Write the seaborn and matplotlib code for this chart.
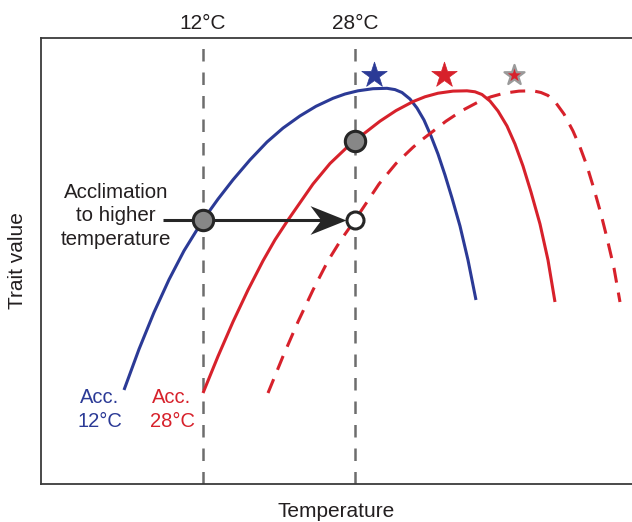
import numpy as np
import pandas as pd
import matplotlib
matplotlib.use("Agg")
import matplotlib.pyplot as plt
from matplotlib.path import Path
import seaborn as sns

# ---------------- data (temperature in degC, trait value in arbitrary units 0-100) -------------
acc12_T = [3.684, 5.263, 6.842, 8.421, 10.000, 12.000, 13.579, 15.158, 16.947, 18.737, 20.421,
           22.211, 23.895, 25.684, 26.947, 28.316, 29.895, 31.368, 32.211, 32.947, 33.789,
           34.526, 35.263, 36.000, 36.737, 37.474, 38.211, 39.053, 39.895, 40.737]
acc12_Y = [21.08, 30.22, 38.48, 45.83, 52.29, 59.19, 63.88, 68.21, 72.67, 76.68, 79.80,
           82.53, 84.69, 86.48, 87.44, 88.16, 88.63, 88.72, 88.43, 87.78, 86.32,
           84.30, 81.61, 78.03, 73.99, 69.28, 64.13, 57.85, 50.22, 41.26]

acc28_T = [12.000, 13.579, 15.158, 16.737, 18.316, 19.579, 20.947, 23.579, 25.368, 27.158,
           28.000, 28.842, 30.632, 32.316, 34.105, 35.368, 36.737, 38.316, 39.789, 40.632,
           41.368, 42.211, 43.053, 44.000, 44.842, 45.684, 46.526, 47.474, 48.316, 49.053]
acc28_Y = [20.40, 28.63, 36.37, 43.50, 50.04, 54.75, 59.19, 67.26, 71.86, 75.49,
           77.02, 78.39, 81.35, 83.72, 85.74, 86.82, 87.62, 88.09, 88.16, 87.94,
           87.33, 85.87, 83.63, 80.27, 76.23, 71.30, 65.47, 58.30, 50.22, 40.81]

shift_T = [18.842, 20.421, 22.000, 23.579, 25.158, 26.526, 28.000, 30.526, 32.316, 34.105,
           34.947, 35.789, 37.579, 39.263, 41.053, 42.316, 43.684, 45.263, 46.737, 47.579,
           48.316, 49.158, 50.000, 50.947, 51.684, 52.421, 53.158, 53.895, 54.526, 55.263,
           55.895]
shift_Y = [20.40, 28.63, 36.37, 43.50, 50.04, 54.75, 59.19, 67.26, 71.86, 75.49,
           77.02, 78.39, 81.35, 83.72, 85.74, 86.82, 87.62, 88.09, 88.16, 87.78,
           87.11, 85.43, 82.96, 79.15, 75.56, 71.30, 66.14, 60.54, 55.16, 48.43,
           40.81]

ref_temps = [12, 28]
ref_labels = ["12\u00b0C", "28\u00b0C"]

gray_pts_T = [12, 28]
gray_pts_Y = [59.19, 76.91]
open_pt_T = [28]
open_pt_Y = [59.19]

star_T = [29.95, 37.37, 44.74]
star_Y = [91.7, 91.7, 91.7]

arrow_T = [7.79, 27.05]
arrow_Y = 59.19

BLUE = "#2B3A96"
RED = "#D7212B"
DARK = "#262626"
TXT = "#231f20"

# ---------------- figure ----------------
sns.set_theme(style="white")
plt.rcParams['font.family'] = ['Liberation Sans', 'DejaVu Sans']

fig = plt.figure(figsize=(6.32, 5.22), dpi=100)
ax = fig.add_axes([0.0641, 0.0728, 0.9359, 0.8544])
ax.set_xlim(-5.105, 57.16)
ax.set_ylim(0, 100)

for s in ["left", "top", "bottom"]:
    ax.spines[s].set_color("#3a3a3a")
    ax.spines[s].set_linewidth(1.3)
ax.spines["right"].set_visible(False)
ax.set_xticks([])
ax.set_yticks([])

# reference temperatures
for t, lab in zip(ref_temps, ref_labels):
    ax.axvline(t, color="#6d6d6d", lw=1.8, dashes=(5, 4.4), zorder=1)
    ax.text(t, 102.0, lab, ha="center", va="baseline", fontsize=15,
            color=TXT, clip_on=False)

# curves
sns.lineplot(x=acc12_T, y=acc12_Y, sort=False, estimator=None, color=BLUE, lw=2.2,
             solid_capstyle="butt", solid_joinstyle="round", ax=ax, zorder=3)
sns.lineplot(x=acc28_T, y=acc28_Y, sort=False, estimator=None, color=RED, lw=2.2,
             solid_capstyle="butt", solid_joinstyle="round", ax=ax, zorder=3)
sns.lineplot(x=shift_T, y=shift_Y, sort=False, estimator=None, color=RED, lw=2.2,
             linestyle=(0, (4.9, 3.3)), dash_capstyle="butt", ax=ax, zorder=3)

# arrow (annotation)
ax.plot([arrow_T[0], arrow_T[1] - 1.0], [arrow_Y, arrow_Y], color=DARK, lw=2.2,
        solid_capstyle="butt", zorder=4)
head = Path([(0, 0), (-1, 0.4), (-0.7, 0), (-1, -0.4), (0, 0)],
            [Path.MOVETO, Path.LINETO, Path.LINETO, Path.LINETO, Path.CLOSEPOLY])
ax.plot([arrow_T[1]], [arrow_Y], marker=head, ms=51.8, color=DARK, mew=0, zorder=4)

# points
sns.scatterplot(x=gray_pts_T, y=gray_pts_Y, s=215, color="#878787", edgecolor=DARK,
                linewidth=2.2, ax=ax, zorder=6)
sns.scatterplot(x=open_pt_T, y=open_pt_Y, s=150, color="white", edgecolor=DARK,
                linewidth=2.2, ax=ax, zorder=6)

# optimum stars
sns.scatterplot(x=star_T[:1], y=star_Y[:1], marker="*", s=370, color=BLUE,
                edgecolor=BLUE, linewidth=0.5, ax=ax, zorder=6, clip_on=False)
sns.scatterplot(x=star_T[1:2], y=star_Y[1:2], marker="*", s=370, color=RED,
                edgecolor=RED, linewidth=0.5, ax=ax, zorder=6, clip_on=False)
sns.scatterplot(x=star_T[2:], y=star_Y[2:], marker="*", s=230, color=RED,
                edgecolor="#9a9a9a", linewidth=1.6, ax=ax, zorder=6, clip_on=False)

# texts
ax.text(2.84, 60.1, "Acclimation\nto higher\ntemperature", ha="center", va="center",
        fontsize=14.8, color=TXT, linespacing=1.32, zorder=7)
ax.text(1.16, 16.7, "Acc.\n12\u00b0C", ha="center", va="center", fontsize=14.5,
        color=BLUE, linespacing=1.32)
ax.text(8.74, 16.7, "Acc.\n28\u00b0C", ha="center", va="center", fontsize=14.5,
        color=RED, linespacing=1.32)

ax.set_xlabel("")
ax.set_ylabel("")
ax.text(0.5, -0.061, "Temperature", transform=ax.transAxes, ha="center", va="center",
        fontsize=15, color=TXT)
ax.text(-0.039, 0.5, "Trait value", transform=ax.transAxes, ha="center", va="center",
        rotation=90, fontsize=15, color=TXT)

fig.savefig("out.png", dpi=100)
